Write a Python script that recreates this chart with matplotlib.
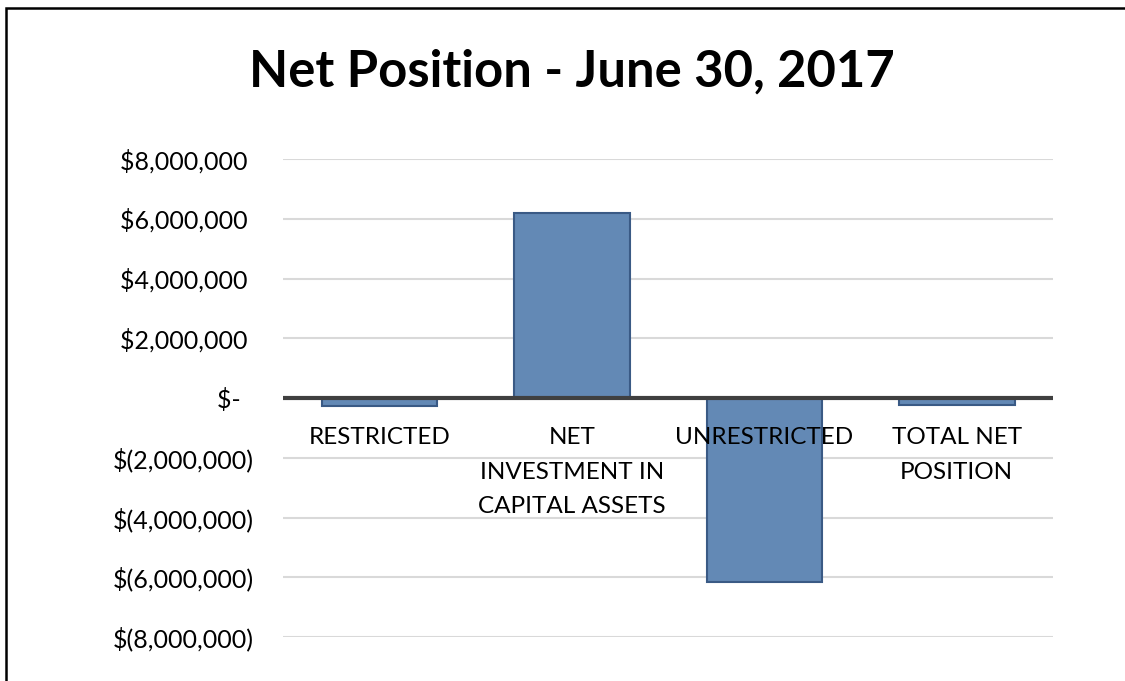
import matplotlib.pyplot as plt
from matplotlib.patches import Rectangle

# data
categories = ['RESTRICTED', 'NET\nINVESTMENT IN\nCAPITAL ASSETS', 'UNRESTRICTED', 'TOTAL NET\nPOSITION']
values = [-280000, 6190000, -6150000, -240000]
ticks = [8000000, 6000000, 4000000, 2000000, 0, -2000000, -4000000, -6000000, -8000000]

def money(v):
    if v == 0:
        return '$-  '
    if v < 0:
        return '$({:,})'.format(-v)
    return '${:,} '.format(v)

plt.rcParams['font.family'] = ['Lato', 'DejaVu Sans']

fig = plt.figure(figsize=(11.25, 6.81), dpi=100)
ax = fig.add_axes([283/1125, 1-637/681, 770/1125, 478/681])

x = range(len(categories))
ax.bar(x, values, width=0.6, color='#6389b5', edgecolor='#3a5a85', linewidth=1.5, zorder=3)
ax.axhline(0, color='#404040', linewidth=3, zorder=4)

ax.set_xlim(-0.5, 3.5)
ax.set_ylim(-8000000, 8000000)
ax.set_yticks(ticks)
ax.set_yticklabels([money(t) for t in ticks], fontsize=18)
ax.tick_params(axis='y', length=0, pad=21)
ax.set_xticks([])
ax.grid(axis='y', color='#d9d9d9', linewidth=1.5, zorder=0)
for s in ax.spines.values():
    s.set_visible(False)

for i, lab in enumerate(categories):
    ax.annotate(lab, (i, 0), xytext=(0, -21), textcoords='offset points',
                ha='center', va='top', fontsize=17.5, linespacing=1.8, zorder=5)

fig.text(572/1125, 1-72/681, 'Net Position - June 30, 2017', ha='center', va='center',
         fontsize=36.5, fontweight='bold')

fig.patches.append(Rectangle((6/1125, -0.1), 1.2, 1-8/681+0.1, transform=fig.transFigure,
                             fill=False, edgecolor='black', linewidth=1.8))

fig.savefig('out.png', dpi=100)
